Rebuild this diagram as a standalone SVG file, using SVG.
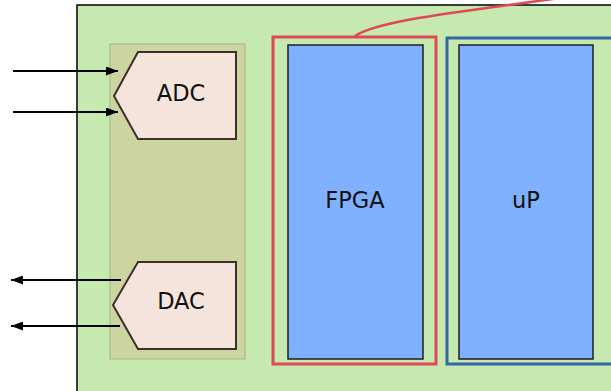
<svg xmlns="http://www.w3.org/2000/svg" width="611" height="391" viewBox="0 0 611 391">
<defs>
<style>
.board{fill:#c6e9b0;stroke:#000;stroke-width:1.5}
.panel{fill:#ccd5a0;stroke:#a6b57f;stroke-width:1}
.conv{fill:#f4e4db;stroke:#3c3028;stroke-width:2}
.chip{fill:#80b1ff;stroke:#1e1e1e;stroke-width:1.5}
.lbl{font-family:"DejaVu Sans",sans-serif;font-size:22.5px;fill:#111;text-anchor:middle;dominant-baseline:central}
.wire{stroke:#000;stroke-width:2;fill:none}
</style>
<marker id="ah" viewBox="0 0 12 9" refX="12" refY="4.5" markerWidth="6" markerHeight="4.5" orient="auto" markerUnits="strokeWidth">
<path d="M0,0 L12,4.5 L0,9 z" fill="#000"/>
</marker>
</defs>
<g id="board"><rect class="board" x="77" y="5" width="540" height="392"/></g>
<g id="panel"><rect class="panel" x="110" y="44" width="135" height="315"/></g>
<g id="adc"><polygon class="conv" points="138,52 236,52 236,139 138,139 114,96"/><text class="lbl" x="181" y="93">ADC</text></g>
<g id="dac"><polygon class="conv" points="138,262 236,262 236,349 138,349 113,305"/><text class="lbl" x="181" y="301">DAC</text></g>
<g id="fpga-frame"><rect x="273" y="37" width="163" height="327" fill="none" stroke="#df4858" stroke-width="3"/></g>
<g id="fpga"><rect class="chip" x="288" y="45" width="135" height="314"/><text class="lbl" x="355" y="200">FPGA</text></g>
<g id="up-frame"><rect x="447" y="38" width="170" height="326" fill="none" stroke="#3666a6" stroke-width="3"/></g>
<g id="up"><rect class="chip" x="459" y="45" width="134" height="314"/><text class="lbl" x="526" y="200">uP</text></g>
<g id="connectors">
<line class="wire" x1="13" y1="71" x2="118" y2="71" marker-end="url(#ah)"/>
<line class="wire" x1="13" y1="112" x2="118" y2="112" marker-end="url(#ah)"/>
<line class="wire" x1="121" y1="280" x2="11" y2="280" marker-end="url(#ah)"/>
<line class="wire" x1="120" y1="326" x2="11" y2="326" marker-end="url(#ah)"/>
<path d="M355,36 C380,20 460,12 560,-2" fill="none" stroke="#df4858" stroke-width="2.5"/>
</g>
</svg>
